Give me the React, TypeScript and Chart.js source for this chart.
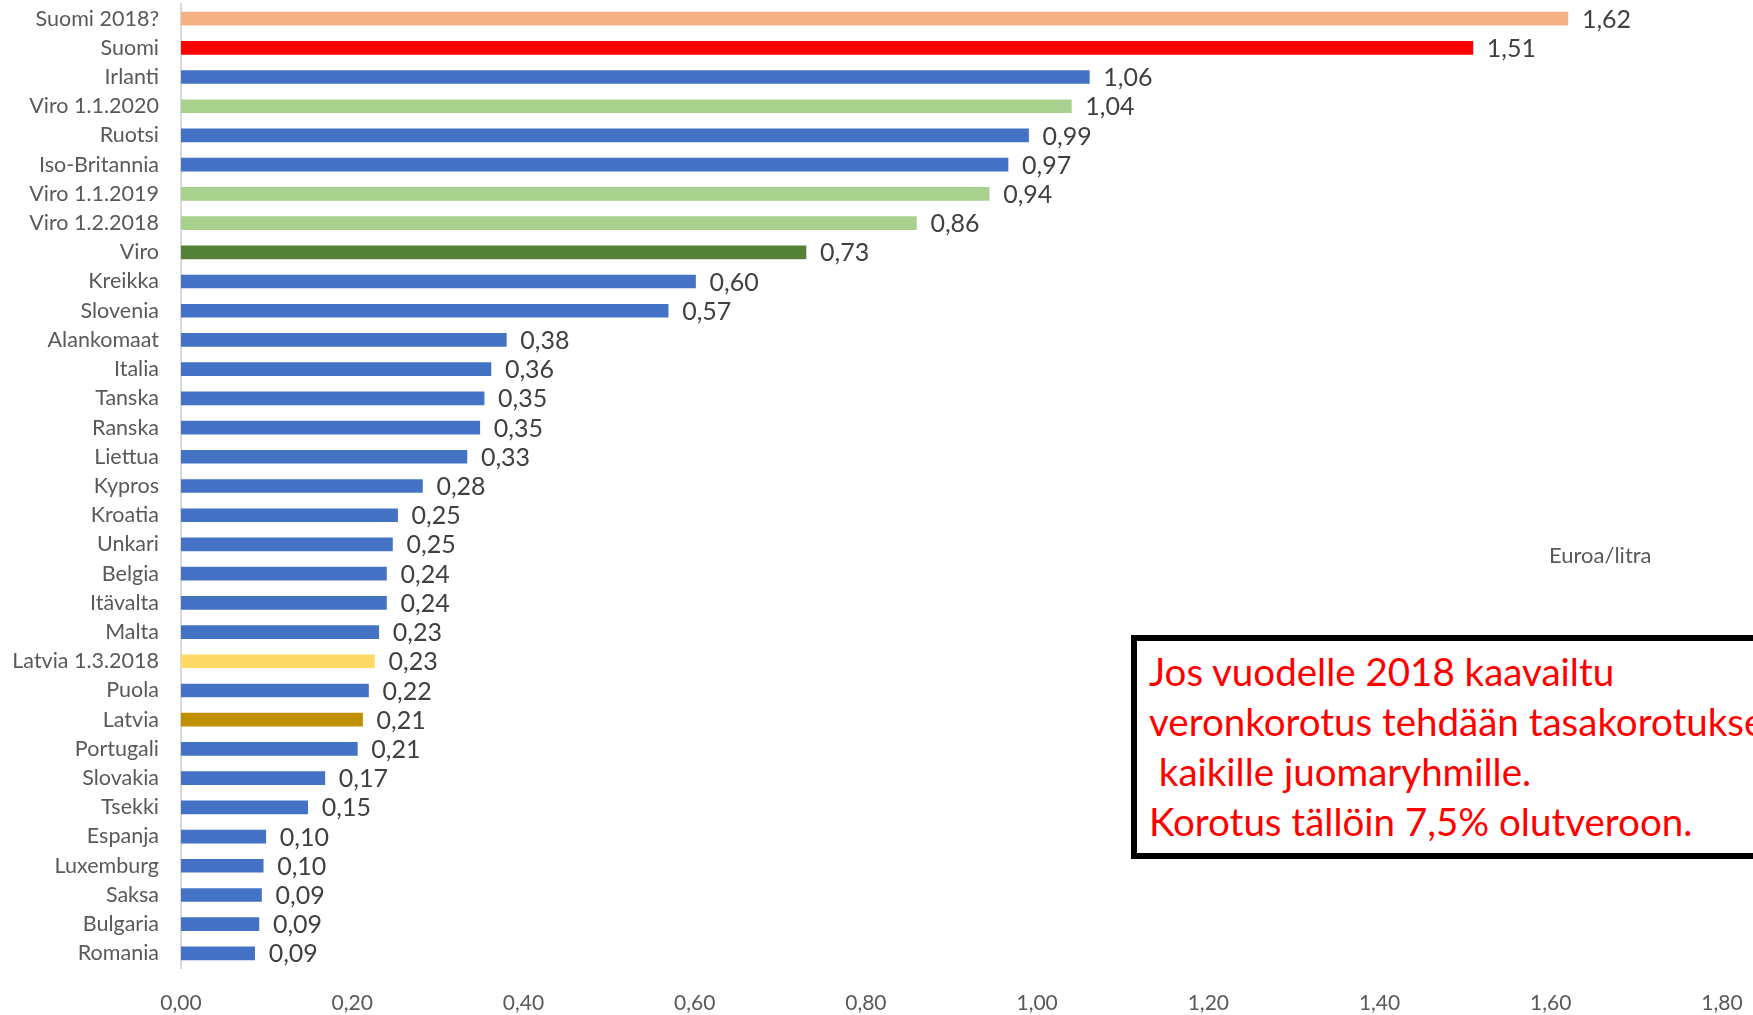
import React, { useEffect, useRef } from "react";
import { Chart, registerables } from "chart.js";

Chart.register(...registerables);

const categories = [
  "Suomi 2018?", "Suomi", "Irlanti", "Viro 1.1.2020", "Ruotsi", "Iso-Britannia",
  "Viro 1.1.2019", "Viro 1.2.2018", "Viro", "Kreikka", "Slovenia", "Alankomaat",
  "Italia", "Tanska", "Ranska", "Liettua", "Kypros", "Kroatia", "Unkari", "Belgia",
  "Itävalta", "Malta", "Latvia 1.3.2018", "Puola", "Latvia", "Portugali", "Slovakia",
  "Tsekki", "Espanja", "Luxemburg", "Saksa", "Bulgaria", "Romania",
];

const values = [
  1.62, 1.509, 1.061, 1.04, 0.99, 0.966, 0.944, 0.859, 0.73, 0.601, 0.569, 0.38,
  0.362, 0.354, 0.349, 0.334, 0.282, 0.253, 0.247, 0.24, 0.24, 0.231, 0.226, 0.219,
  0.212, 0.206, 0.168, 0.148, 0.099, 0.096, 0.094, 0.091, 0.086,
];

const valueLabels = [
  "1,62", "1,51", "1,06", "1,04", "0,99", "0,97", "0,94", "0,86", "0,73", "0,60",
  "0,57", "0,38", "0,36", "0,35", "0,35", "0,33", "0,28", "0,25", "0,25", "0,24",
  "0,24", "0,23", "0,23", "0,22", "0,21", "0,21", "0,17", "0,15", "0,10", "0,10",
  "0,09", "0,09", "0,09",
];

const BLUE = "#4472C4";
const barColors = [
  "#F4B183", "#FF0000", BLUE, "#A9D18E", BLUE, BLUE, "#A9D18E", "#A9D18E", "#538135",
  BLUE, BLUE, BLUE, BLUE, BLUE, BLUE, BLUE, BLUE, BLUE, BLUE, BLUE, BLUE, BLUE,
  "#FFD966", BLUE, "#BF9000", BLUE, BLUE, BLUE, BLUE, BLUE, BLUE, BLUE, BLUE,
];

const xTickValues = [0, 0.2, 0.4, 0.6, 0.8, 1.0, 1.2, 1.4, 1.6, 1.8];

const unitLabel = "Euroa/litra";
const noteLines = [
  "Jos vuodelle 2018 kaavailtu",
  "veronkorotus tehdään tasakorotuksena",
  "\u00a0kaikille juomaryhmille.",
  "Korotus tällöin 7,5% olutveroon.",
];

const FONT = "Lato, 'Open Sans', sans-serif";

const valueLabelPlugin = {
  id: "valueLabels",
  afterDatasetsDraw(chart: any) {
    const ctx = chart.ctx;
    const meta = chart.getDatasetMeta(0);
    ctx.save();
    ctx.font = `25px ${FONT}`;
    ctx.fillStyle = "#404040";
    ctx.textAlign = "left";
    ctx.textBaseline = "middle";
    meta.data.forEach((el: any, i: number) => {
      ctx.fillText(valueLabels[i], el.x + 14, el.y + 1);
    });
    ctx.restore();
  },
};

export default function App() {
  const canvasRef = useRef<HTMLCanvasElement>(null);

  useEffect(() => {
    if (!canvasRef.current) return;
    const chart = new Chart(canvasRef.current, {
      type: "bar",
      data: {
        labels: categories,
        datasets: [
          {
            data: values,
            backgroundColor: barColors,
            borderWidth: 0,
            barThickness: 13,
          },
        ],
      },
      options: {
        indexAxis: "y",
        responsive: false,
        maintainAspectRatio: false,
        animation: false,
        layout: { padding: { top: 4, right: 31, left: 0, bottom: 0 } },
        plugins: { legend: { display: false }, tooltip: { enabled: false } },
        scales: {
          x: {
            min: 0,
            max: 1.8,
            afterBuildTicks: (s: any) => {
              s.ticks = xTickValues.map((v) => ({ value: v }));
            },
            ticks: {
              callback: (v: any) => Number(v).toFixed(2).replace(".", ","),
              font: { family: FONT, size: 21 },
              color: "#595959",
              padding: 23,
              maxRotation: 0,
              autoSkip: false,
            },
            grid: { display: false, drawTicks: false },
            border: { display: false },
            afterFit: (s: any) => {
              s.height = 47;
              s.paddingLeft = 0;
              s.paddingRight = 0;
            },
          },
          y: {
            ticks: {
              font: { family: FONT, size: 21.5 },
              color: "#595959",
              padding: 22,
              autoSkip: false,
            },
            grid: { display: false, drawTicks: false },
            border: { display: true, color: "#D9D9D9", width: 2 },
            afterFit: (s: any) => {
              s.width = 181;
              s.paddingTop = 0;
              s.paddingBottom = 0;
            },
          },
        },
      },
      plugins: [valueLabelPlugin],
    } as any);
    return () => chart.destroy();
  }, []);

  return (
    <div
      style={{
        position: "fixed",
        left: 0,
        top: 0,
        width: 1753,
        height: 1015,
        overflow: "hidden",
        background: "#fff",
      }}
    >
      <canvas ref={canvasRef} width={1753} height={1015} style={{ display: "block" }} />
      <div
        style={{
          position: "absolute",
          left: 1549,
          top: 541,
          font: `22px ${FONT}`,
          lineHeight: "27px",
          color: "#595959",
          whiteSpace: "nowrap",
        }}
      >
        {unitLabel}
      </div>
      <div
        style={{
          position: "absolute",
          left: 1131,
          top: 635,
          width: 760,
          height: 224,
          boxSizing: "border-box",
          border: "6px solid #000",
          background: "#fff",
          padding: "5px 0 0 12px",
          font: `38.5px ${FONT}`,
          lineHeight: "50px",
          color: "#FF0000",
          whiteSpace: "nowrap",
        }}
      >
        {noteLines.map((l, i) => (
          <div key={i}>{l}</div>
        ))}
      </div>
    </div>
  );
}
